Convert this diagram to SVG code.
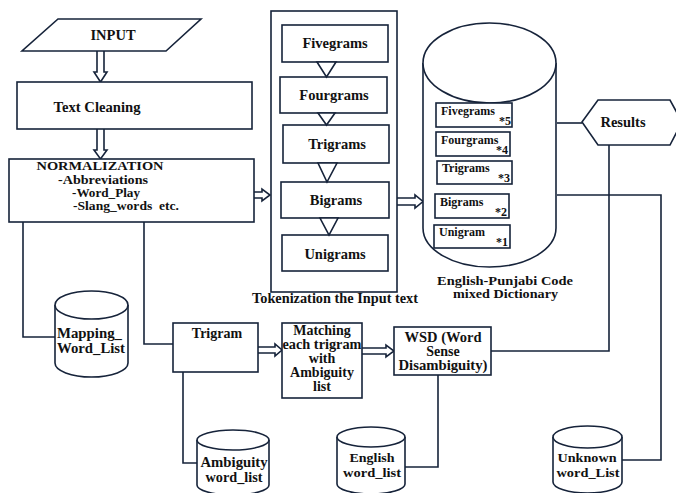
<svg xmlns="http://www.w3.org/2000/svg" width="676" height="493" viewBox="0 0 676 493">
<style>
.s{fill:#fff;stroke:#16233a;stroke-width:1.6}
.n{fill:none;stroke:#16233a;stroke-width:1.6}
.t{font-family:"Liberation Serif","Times New Roman",serif;font-weight:bold;fill:#111;text-anchor:middle}
.l{text-anchor:start}
.e{text-anchor:end}
</style>
<rect width="676" height="493" fill="#fff"/>
<g id="connectors">
<path class="n" d="M23,222 V337 H55"/>
<path class="n" d="M144,222 V344 H173"/>
<path class="n" d="M183,372 V463 H197"/>
<path class="n" d="M438,375 V467 H405"/>
<path class="n" d="M557,123 H582"/>
<path class="n" d="M609,145 V351 H491"/>
<path class="n" d="M557,195 H661 V460 H622"/>
<path class="s" d="M97,51 V72 H94 L100.5,82 L107,72 H104 V51"/>
<path class="s" d="M97,129 V150 H94 L100.5,159 L107,150 H104 V129"/>
<path class="s" d="M254,192 H262 V189 L270,195 L262,201 V198 H254"/>
<path class="s" d="M397,198 H415 V195 L423,201.5 L415,208 V205 H397"/>
<path class="s" d="M258,347 H275 V344 L282,350 L275,356 V353 H258"/>
<path class="s" d="M362,348 H386 V345 L394,351 L386,357 V354 H362"/>
</g>
<g id="input">
<polygon class="s" points="58,19 201,19 166,51 22,51"/>
<text class="t" x="113" y="40" font-size="14.5">INPUT</text>
</g>
<g id="text-cleaning">
<rect class="s" x="17" y="82" width="235" height="47"/>
<text class="t" x="97" y="112" font-size="15" textLength="87" lengthAdjust="spacingAndGlyphs">Text Cleaning</text>
</g>
<g id="normalization">
<rect class="s" x="9" y="159" width="245" height="63"/>
<text class="t" x="100" y="170" font-size="13" textLength="127" lengthAdjust="spacingAndGlyphs">NORMALIZATION</text>
<text class="t" x="103" y="184" font-size="12.5" textLength="90" lengthAdjust="spacingAndGlyphs">-Abbreviations</text>
<text class="t" x="106" y="197" font-size="12.5" textLength="68" lengthAdjust="spacingAndGlyphs">-Word_Play</text>
<text class="t" x="126" y="210" font-size="12.5" textLength="106" lengthAdjust="spacingAndGlyphs" xml:space="preserve">-Slang_words  etc.</text>
</g>
<g id="tokenization">
<rect class="s" x="271" y="11" width="126" height="281"/>
<text class="t" x="335" y="303" font-size="14" textLength="166" lengthAdjust="spacingAndGlyphs">Tokenization the Input text</text>
</g>
<g id="fivegrams">
<rect class="s" x="282" y="25" width="106" height="37"/>
<text class="t" x="335" y="48" font-size="14.5">Fivegrams</text>
</g>
<g id="fourgrams">
<rect class="s" x="280" y="77" width="107" height="36"/>
<text class="t" x="334" y="100" font-size="14.5">Fourgrams</text>
</g>
<g id="trigrams">
<rect class="s" x="283" y="125" width="106" height="38"/>
<text class="t" x="337" y="149" font-size="14.5">Trigrams</text>
</g>
<g id="bigrams">
<rect class="s" x="281" y="182" width="108" height="36"/>
<text class="t" x="336" y="205" font-size="14.5">Bigrams</text>
</g>
<g id="unigrams">
<rect class="s" x="282" y="235" width="106" height="36"/>
<text class="t" x="335" y="259" font-size="14.5">Unigrams</text>
</g>
<g id="token-arrows">
<polygon class="s" points="317,62 336,62 326.5,77"/>
<polygon class="s" points="318,113 335,113 326.5,125"/>
<polygon class="s" points="318,163 337,163 327,182"/>
<polygon class="s" points="320,218 338,218 329,235"/>
</g>
<g id="dictionary">
<path class="s" d="M423,63 V228 A66.5,39 0 0 0 556,228 V63"/>
<ellipse class="s" cx="489.5" cy="63" rx="66.5" ry="40"/>
<rect class="s" x="436" y="103" width="76" height="24"/>
<text class="t l" x="441" y="115" font-size="12">Fivegrams</text>
<text class="t e" x="511" y="125" font-size="12">*5</text>
<rect class="s" x="436" y="132" width="74" height="24"/>
<text class="t l" x="441" y="144" font-size="12">Fourgrams</text>
<text class="t e" x="508" y="154" font-size="12">*4</text>
<rect class="s" x="437" y="161" width="75" height="23"/>
<text class="t l" x="442" y="172" font-size="12">Trigrams</text>
<text class="t e" x="510" y="182" font-size="12">*3</text>
<rect class="s" x="435" y="194" width="74" height="24"/>
<text class="t l" x="440" y="206" font-size="12">Bigrams</text>
<text class="t e" x="507" y="216" font-size="12">*2</text>
<rect class="s" x="434" y="225" width="76" height="23"/>
<text class="t l" x="439" y="236" font-size="12">Unigram</text>
<text class="t e" x="508" y="246" font-size="12">*1</text>
<text class="t" x="505" y="285" font-size="12.5" textLength="136" lengthAdjust="spacingAndGlyphs">English-Punjabi Code</text>
<text class="t" x="505.5" y="298" font-size="12.5" textLength="105" lengthAdjust="spacingAndGlyphs">mixed Dictionary</text>
</g>
<g id="results">
<polygon class="s" points="582,122 598,100 670,100 682,122 670,145 598,145"/>
<text class="t" x="623" y="127" font-size="14.5">Results</text>
</g>
<g id="mapping-word-list">
<path class="s" d="M55,305 V363 A36.5,14 0 0 0 128,363 V305"/>
<ellipse class="s" cx="91.5" cy="305" rx="36.5" ry="14"/>
<text class="t l" x="57" y="338" font-size="14.5" textLength="65" lengthAdjust="spacingAndGlyphs">Mapping_</text>
<text class="t l" x="57" y="353" font-size="14.5" textLength="68" lengthAdjust="spacingAndGlyphs">Word_List</text>
</g>
<g id="trigram">
<rect class="s" x="173" y="323" width="85" height="49"/>
<text class="t" x="217" y="338" font-size="14">Trigram</text>
</g>
<g id="matching">
<rect class="s" x="282" y="323" width="80" height="75"/>
<text class="t" x="322" y="335" font-size="14">Matching</text>
<text class="t" x="322" y="349" font-size="14" textLength="79" lengthAdjust="spacingAndGlyphs">each trigram</text>
<text class="t" x="322" y="363" font-size="14">with</text>
<text class="t" x="322" y="377" font-size="14">Ambiguity</text>
<text class="t" x="322" y="391" font-size="14">list</text>
</g>
<g id="wsd">
<rect class="s" x="394" y="327" width="97" height="48"/>
<text class="t" x="443" y="342" font-size="14" textLength="77" lengthAdjust="spacingAndGlyphs">WSD (Word</text>
<text class="t" x="443" y="356" font-size="14">Sense</text>
<text class="t" x="443" y="370" font-size="14" textLength="89" lengthAdjust="spacingAndGlyphs">Disambiguity)</text>
</g>
<g id="ambiguity-word-list">
<path class="s" d="M197,440 V485 A36,10 0 0 0 269,485 V440"/>
<ellipse class="s" cx="233" cy="440" rx="36" ry="10"/>
<text class="t" x="234" y="467" font-size="14" textLength="67" lengthAdjust="spacingAndGlyphs">Ambiguity</text>
<text class="t" x="234" y="482" font-size="14" textLength="57" lengthAdjust="spacingAndGlyphs">word_list</text>
</g>
<g id="english-word-list">
<path class="s" d="M337,437 V484 A34,10 0 0 0 405,484 V437"/>
<ellipse class="s" cx="371" cy="437" rx="34" ry="10"/>
<text class="t" x="372" y="462" font-size="13.5" textLength="45" lengthAdjust="spacingAndGlyphs">English</text>
<text class="t" x="372" y="477" font-size="13.5" textLength="58" lengthAdjust="spacingAndGlyphs">word_list</text>
</g>
<g id="unknown-word-list">
<path class="s" d="M553,437 V482 A34.5,11 0 0 0 622,482 V437"/>
<ellipse class="s" cx="587.5" cy="437" rx="34.5" ry="11"/>
<text class="t" x="587" y="462" font-size="13.5" textLength="59" lengthAdjust="spacingAndGlyphs">Unknown</text>
<text class="t" x="588" y="477" font-size="13.5" textLength="63" lengthAdjust="spacingAndGlyphs">word_List</text>
</g>
</svg>
